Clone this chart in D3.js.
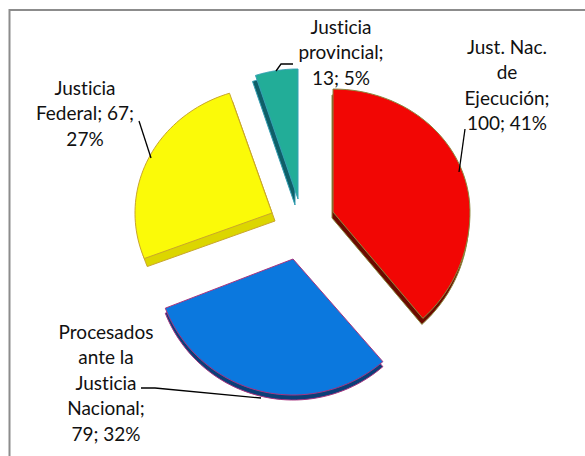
<!DOCTYPE html>
<html>
<head>
<meta charset="utf-8">
<script src="https://cdnjs.cloudflare.com/ajax/libs/d3/7.8.5/d3.min.js"></script>
<style>
	html, body {margin: 0; padding: 0; background: white;}
	svg {display: block;}
	text {font-family: Lato, "Open Sans", sans-serif; font-size: 19px; fill: #111; font-variant-ligatures: none;}
</style>
</head>
<body>
<div id="chart"></div>
<script>
// Slices go clockwise starting at 12 o'clock
var categories = ['Just. Nac. de Ejecución', 'Procesados ante la Justicia Nacional', 'Justicia Federal', 'Justicia provincial'];
var values = [100, 79, 67, 13];
var percents = [41, 32, 27, 5];

// Label text as it wraps in the picture
var labelLines = [
	['Just. Nac.', 'de', 'Ejecución;', '100; 41%'],
	['Procesados', 'ante la', 'Justicia', 'Nacional;', '79; 32%'],
	['Justicia', 'Federal; 67;', '27%'],
	['Justicia', 'provincial;', '13; 5%']
];

var topColors = ['#f20604', '#0b78de', '#fbfa08', '#22ad98'];
var wallColors = ['#6b0a00', '#0a3f78', '#dcd600', '#0f5f68'];
var edgeColors = ['#8c8a40', '#a8347f', '#c9a62c', '#35a0b4'];

var width = 585, height = 456;

// Every exploded slice is placed by hand: apex, radii (the tilt makes the near side larger) and wall offset
var layout = [
	{cx: 333, cy: 212, rx: 137, ryUp: 123, ryDown: 141, dx: -1, dy: 6},
	{cx: 293, cy: 259, rx: 137, ryUp: 137, ryDown: 136, dx: 0, dy: 5},
	{cx: 272, cy: 213, rx: 137, ryUp: 126, ryDown: 126, dx: 3, dy: 8},
	{cx: 298, cy: 199, rx: 137, ryUp: 130, ryDown: 130, dx: -3, dy: 6}
];

var labelPos = [
	{x: 507, y: 49},
	{x: 106, y: 334},
	{x: 85, y: 90},
	{x: 341, y: 29}
];
var lineHeight = 25.5;

var leaders = [
	[[465, 129], [459, 172]],
	[[141, 388], [155, 388], [261, 398]],
	[[139, 121], [151, 158]],
	[[293, 64], [281, 64], [276, 71]]
];

var svg = d3.select('#chart').append('svg')
	.attr('width', width)
	.attr('height', height);

// Frame: only the top and left sides fall inside the picture
svg.append('path')
	.attr('fill', 'none')
	.attr('stroke', '#8c8c8c')
	.attr('stroke-width', 2)
	.attr('d', d3.line()([[9.5, height], [9.5, 10], [width, 10]]));

var pie = d3.pie().sort(null).value(function(d) {return d;});
var slices = pie(values);

/**
 * Builds the outline of a slice on its own ellipse
 */
var slicePath = function(d, i, offsetX, offsetY) {
	var l = layout[i];
	var angle = d3.scaleLinear().domain([0, 1]).range([d.startAngle, d.endAngle]);
	var points = [[l.cx + offsetX, l.cy + offsetY]];

	d3.range(0, 1.0001, 0.02).forEach(function(t) {
		var a = angle(t);
		var ry = Math.cos(a) > 0 ? l.ryUp : l.ryDown;
		points.push([l.cx + offsetX + l.rx * Math.sin(a), l.cy + offsetY - ry * Math.cos(a)]);
	});

	return d3.line()(points) + 'Z';
};

var g = svg.append('g');

// Walls first, then the top faces over them
g.selectAll('.wall').data(slices).enter().append('path')
	.attr('class', 'wall')
	.attr('fill', function(d, i) {return wallColors[i];})
	.attr('stroke', function(d, i) {return edgeColors[i];})
	.attr('stroke-width', 1)
	.attr('d', function(d, i) {return slicePath(d, i, layout[i].dx, layout[i].dy);});

g.selectAll('.top').data(slices).enter().append('path')
	.attr('class', 'top')
	.attr('fill', function(d, i) {return topColors[i];})
	.attr('stroke', function(d, i) {return edgeColors[i];})
	.attr('stroke-width', 1)
	.attr('d', function(d, i) {return slicePath(d, i, 0, 0);});

g.selectAll('.leader').data(leaders).enter().append('path')
	.attr('class', 'leader')
	.attr('fill', 'none')
	.attr('stroke', '#000')
	.attr('stroke-width', 1.3)
	.attr('d', d3.line());

var labels = svg.selectAll('.label').data(labelLines).enter().append('text')
	.attr('class', 'label')
	.attr('text-anchor', 'middle');

labels.selectAll('tspan').data(function(d, i) {
		return d.map(function(line, j) {return {line: line, x: labelPos[i].x, y: labelPos[i].y + j * lineHeight};});
	}).enter().append('tspan')
	.attr('x', function(d) {return d.x;})
	.attr('y', function(d) {return d.y;})
	.attr('dominant-baseline', 'middle')
	.text(function(d) {return d.line;});
</script>
</body>
</html>
